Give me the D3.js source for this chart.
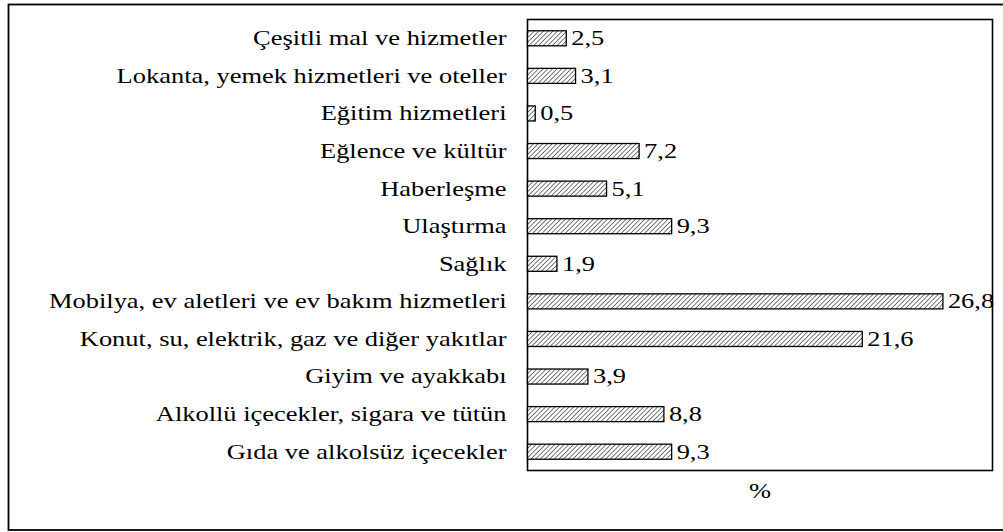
<!DOCTYPE html>
<html>
<head>
<meta charset="utf-8">
<script src="https://cdn.jsdelivr.net/npm/d3@7"></script>
<style>
  html, body { margin: 0; padding: 0; background: #fff; }
  svg { display: block; }
</style>
</head>
<body>
<svg id="chart" width="1003" height="532"></svg>
<script>
// Household consumption expenditure shares by group (%)
const categories = [
  "Çeşitli mal ve hizmetler",
  "Lokanta, yemek hizmetleri ve oteller",
  "Eğitim hizmetleri",
  "Eğlence ve kültür",
  "Haberleşme",
  "Ulaştırma",
  "Sağlık",
  "Mobilya, ev aletleri ve ev bakım hizmetleri",
  "Konut, su, elektrik, gaz ve diğer yakıtlar",
  "Giyim ve ayakkabı",
  "Alkollü içecekler, sigara ve tütün",
  "Gıda ve alkolsüz içecekler"
];
const values = [2.5, 3.1, 0.5, 7.2, 5.1, 9.3, 1.9, 26.8, 21.6, 3.9, 8.8, 9.3];
const valueLabels = ["2,5", "3,1", "0,5", "7,2", "5,1", "9,3", "1,9", "26,8", "21,6", "3,9", "8,8", "9,3"];
const axisTitle = "%";

const FONT = "'Liberation Serif'";
const FONT_SIZE = "21px";
const STRETCH = 1.26; // wide-set type

const svg = d3.select("#chart");

// outer frame
svg.append("rect")
  .attr("x", 8.5).attr("y", 4.5)
  .attr("width", 1003).attr("height", 525.5)
  .attr("fill", "none").attr("stroke", "#000").attr("stroke-width", 1.8);

const plot = { left: 527.5, top: 19.5, right: 992.5, bottom: 470.5 };

const x = d3.scaleLinear().domain([0, 30]).range([plot.left, plot.right]);
const y = d3.scaleBand().domain(categories).range([plot.top, plot.bottom]).paddingInner(0.6).paddingOuter(0.3);

// diagonal hatch fill
const defs = svg.append("defs");
const pat = defs.append("pattern")
  .attr("id", "hatch")
  .attr("patternUnits", "userSpaceOnUse")
  .attr("width", 3.3).attr("height", 3.3)
  .attr("patternTransform", "rotate(45)");
pat.append("rect").attr("width", 3.3).attr("height", 3.3).attr("fill", "#fff");
pat.append("line")
  .attr("x1", 0).attr("y1", 0).attr("x2", 0).attr("y2", 3.3)
  .attr("stroke", "#333").attr("stroke-width", 1.3);

// plot box
svg.append("rect")
  .attr("x", plot.left).attr("y", plot.top)
  .attr("width", plot.right - plot.left).attr("height", plot.bottom - plot.top)
  .attr("fill", "none").attr("stroke", "#000").attr("stroke-width", 1.6);

// bars
svg.append("g").selectAll("rect")
  .data(values)
  .join("rect")
  .attr("x", x(0))
  .attr("y", (d, i) => y(categories[i]))
  .attr("width", d => x(d) - x(0))
  .attr("height", y.bandwidth())
  .attr("fill", "url(#hatch)")
  .attr("stroke", "#000")
  .attr("stroke-width", 1.3);

// category axis
const labelGap = 21;
const yAxis = d3.axisLeft(y).tickSize(0).tickPadding(labelGap);
const ga = svg.append("g").attr("transform", `translate(${plot.left},0)`).call(yAxis);
ga.attr("font-family", null).attr("font-size", null);
ga.select(".domain").remove();
ga.selectAll("text")
  .attr("x", -labelGap / STRETCH)
  .attr("dy", "0.33em")
  .attr("transform", `scale(${STRETCH},1)`)
  .style("font-family", FONT)
  .style("font-size", FONT_SIZE)
  .attr("fill", "#000");

// value labels
svg.append("g").selectAll("text")
  .data(values)
  .join("text")
  .attr("transform", (d, i) => `translate(${x(d) + 5},${y(categories[i]) + y.bandwidth() / 2}) scale(${STRETCH},1)`)
  .attr("dy", "0.33em")
  .style("font-family", FONT)
  .style("font-size", FONT_SIZE)
  .text((d, i) => valueLabels[i]);

// axis title
svg.append("text")
  .attr("transform", `translate(760,498) scale(${STRETCH},1)`)
  .attr("text-anchor", "middle")
  .style("font-family", FONT)
  .style("font-size", FONT_SIZE)
  .text(axisTitle);
</script>
</body>
</html>
